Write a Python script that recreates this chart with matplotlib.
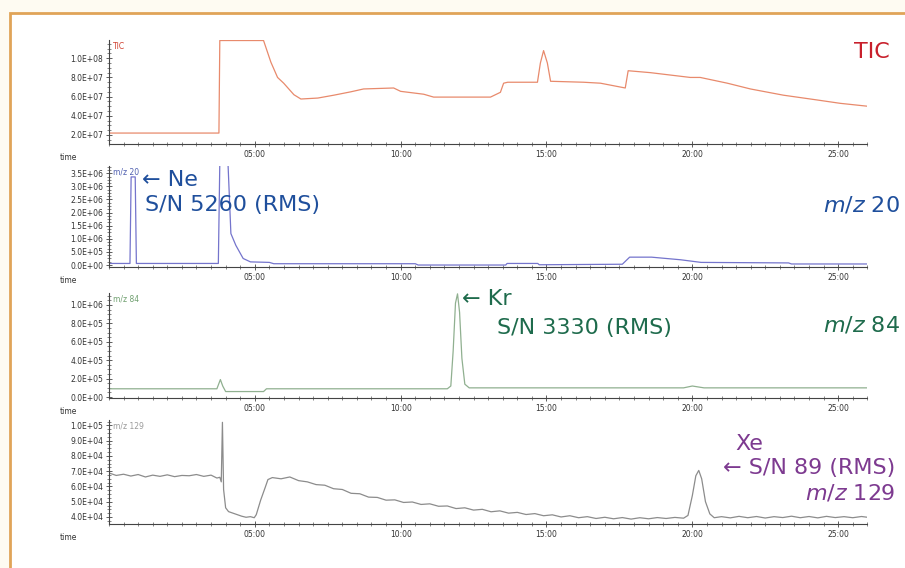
import matplotlib
matplotlib.use("Agg")
import matplotlib.pyplot as plt
import matplotlib.ticker as mticker
from matplotlib.patches import Rectangle

# ---- data (time in minutes) ----
# TIC, values in 1e7 counts
tic_t = [0.05, 3.77, 3.80, 5.30, 5.55, 5.78, 5.99, 6.34, 6.58, 7.16, 7.71, 8.29,
         8.73, 9.76, 10.0, 10.79, 11.13, 13.08, 13.42, 13.53, 13.67, 14.69, 14.79,
         14.90, 15.03, 15.14, 16.27, 16.85, 17.53, 17.70, 17.80, 18.56, 19.93,
         20.27, 21.2, 21.99, 23.12, 24.28, 25.07, 26.0]
tic_v = [2.2, 2.2, 11.85, 11.85, 9.6, 8.0, 7.4, 6.2, 5.75, 5.85, 6.15, 6.5,
         6.8, 6.9, 6.55, 6.25, 5.95, 5.95, 6.45, 7.4, 7.5, 7.5, 9.5,
         10.8, 9.5, 7.6, 7.5, 7.4, 7.0, 6.9, 8.7, 8.5, 8.0,
         8.0, 7.4, 6.8, 6.15, 5.65, 5.3, 5.0]

# m/z 20, values in 1e6 counts
mz20_t = [0.05, 0.72, 0.76, 0.90, 0.94, 3.75, 3.80, 4.08, 4.18, 4.35, 4.6, 4.85,
          5.5, 5.65, 10.5, 10.6, 13.6, 13.65, 14.7, 14.75, 17.6, 17.85, 18.6,
          19.6, 20.3, 23.3, 23.4, 26.0]
mz20_v = [0.06, 0.06, 3.36, 3.36, 0.06, 0.06, 3.9, 3.9, 1.2, 0.75, 0.25, 0.12,
          0.10, 0.05, 0.05, 0.0, 0.0, 0.06, 0.06, 0.01, 0.03, 0.30, 0.30,
          0.20, 0.10, 0.08, 0.04, 0.04]

# m/z 84, values in 1e6 counts
mz84_t = [0.05, 3.70, 3.82, 3.90, 4.0, 5.3, 5.4, 11.6, 11.72, 11.8, 11.88, 11.95,
          12.02, 12.1, 12.2, 12.35, 19.7, 20.0, 20.4, 26.0]
mz84_v = [0.09, 0.09, 0.19, 0.12, 0.06, 0.06, 0.09, 0.09, 0.12, 0.5, 1.02, 1.12,
          0.92, 0.42, 0.14, 0.10, 0.10, 0.12, 0.10, 0.10]

# m/z 129, values in 1e4 counts
mz129_t = [0.05, 0.25, 0.5, 0.75, 1.0, 1.25, 1.5, 1.75, 2.0, 2.25, 2.5, 2.75, 3.0,
           3.25, 3.5, 3.7, 3.80, 3.85, 3.89, 3.93, 4.00, 4.10, 4.25, 4.40, 4.55,
           4.70, 4.85, 4.98, 5.05, 5.20, 5.35, 5.45,
           5.6, 5.9, 6.2, 6.5, 6.8, 7.1, 7.4, 7.7, 8.0, 8.3, 8.6, 8.9, 9.2, 9.5,
           9.8, 10.1, 10.4, 10.7, 11.0, 11.3, 11.6, 11.9, 12.2, 12.5, 12.8, 13.1,
           13.4, 13.7, 14.0, 14.3, 14.6, 14.9, 15.2, 15.5, 15.8, 16.1, 16.4, 16.7,
           17.0, 17.3, 17.6, 17.9, 18.2, 18.5, 18.8, 19.1, 19.4, 19.7,
           19.85, 20.0, 20.12, 20.22, 20.32, 20.45, 20.6, 20.75,
           21.0, 21.3, 21.6, 21.9, 22.2, 22.5, 22.8, 23.1, 23.4, 23.7, 24.0, 24.3,
           24.6, 24.9, 25.2, 25.5, 25.8, 26.0]
mz129_v = [6.85, 6.72, 6.80, 6.68, 6.78, 6.62, 6.74, 6.66, 6.76, 6.64, 6.72, 6.70, 6.78,
           6.66, 6.74, 6.55, 6.60, 6.30, 10.2, 5.8, 4.6, 4.35, 4.25, 4.15, 4.05,
           3.98, 4.02, 3.95, 4.15, 5.1, 5.9, 6.45,
           6.58, 6.50, 6.62, 6.38, 6.30, 6.12, 6.08, 5.85, 5.80, 5.55, 5.52, 5.30, 5.28, 5.10,
           5.12, 4.95, 4.98, 4.82, 4.86, 4.70, 4.72, 4.55, 4.60, 4.45, 4.50, 4.34,
           4.40, 4.25, 4.30, 4.16, 4.22, 4.08, 4.14, 4.00, 4.08, 3.95, 4.02, 3.90,
           3.98, 3.88, 3.96, 3.86, 3.95, 3.88, 3.96, 3.90, 3.97, 3.92,
           4.1, 5.4, 6.7, 7.05, 6.5, 5.0, 4.2, 3.95,
           4.02, 3.94, 4.04, 3.95, 4.03, 3.93, 4.02, 3.96, 4.05, 3.95, 4.03, 3.94,
           4.04, 3.96, 4.02, 3.95, 4.03, 3.98]

W, H = 905, 568
fig = plt.figure(figsize=(W / 100, H / 100), dpi=100)
fig.patch.set_facecolor("#fefbf2")
fig.patches.append(Rectangle((10 / W, -0.05), 1.05, 1 - 13 / H + 0.05,
                             transform=fig.transFigure, facecolor="white",
                             edgecolor="#e0a458", lw=2, zorder=-10))

sci = mticker.FuncFormatter(lambda v, _: f"{v:.1E}")
mmss = mticker.FuncFormatter(lambda v, _: f"{int(v):02d}:00")

panels = [
    # t, v, scale, rect (l, b, w, h), ylim, ymajor, color, small label, label color
    (tic_t, tic_v, 1e7, (0.1204, 0.7465, 0.838, 0.183), (1.06e7, 1.19e8), 2e7,
     "#e88a6c", "TIC", "#d04030"),
    (mz20_t, mz20_v, 1e6, (0.1204, 0.5299, 0.838, 0.178), (-0.076e6, 3.78e6), 0.5e6,
     "#7474cc", "m/z 20", "#5060b0"),
    (mz84_t, mz84_v, 1e6, (0.1204, 0.2993, 0.838, 0.185), (-0.01e6, 1.13e6), 2e5,
     "#90b090", "m/z 84", "#70a070"),
    (mz129_t, mz129_v, 1e4, (0.1204, 0.0775, 0.838, 0.183), (3.54e4, 10.35e4), 1e4,
     "#8c8c8c", "m/z 129", "#9a9a9a"),
]

for t, v, scale, rect, ylim, ymaj, col, lab, labcol in panels:
    ax = fig.add_axes(rect)
    ax.set_facecolor("none")
    ax.plot(t, [x * scale for x in v], color=col, lw=0.9)
    ax.set_xlim(0, 26)
    ax.set_ylim(*ylim)
    for s in ("top", "right"):
        ax.spines[s].set_visible(False)
    for s in ("left", "bottom"):
        ax.spines[s].set_color("#444444")
        ax.spines[s].set_linewidth(0.8)
    ax.xaxis.set_major_locator(mticker.FixedLocator([5, 10, 15, 20, 25]))
    ax.xaxis.set_minor_locator(mticker.MultipleLocator(0.5))
    ax.xaxis.set_major_formatter(mmss)
    ax.yaxis.set_major_locator(mticker.MultipleLocator(ymaj))
    ax.yaxis.set_minor_locator(mticker.MultipleLocator(ymaj / 4))
    ax.yaxis.set_major_formatter(sci)
    ax.tick_params(which="major", direction="inout", length=4, width=0.6,
                   labelsize=5.5, color="#444444", labelcolor="#333333", pad=2)
    ax.tick_params(which="minor", direction="inout", length=2.5, width=0.5,
                   color="#555555")
    ax.annotate("time", xy=(-0.054, 0), xycoords="axes fraction",
                xytext=(0, -10), textcoords="offset points", ha="center",
                va="center", fontsize=5.5, color="#333333")
    ax.text(0.005, 0.985, lab, transform=ax.transAxes, ha="left", va="top",
            fontsize=5.5, color=labcol)


def ftxt(x, y, s, color, ha="left", size=16):
    fig.text(x / W, 1 - y / H, s, color=color, ha=ha, va="center", fontsize=size)


RED, BLUE, GREEN, PURPLE = "#c8202c", "#1f4f9c", "#1e6b4c", "#7d3a90"
ftxt(890, 52, "TIC", RED, ha="right", size=16)

ftxt(142, 180, "\u2190 Ne", BLUE)
ftxt(145, 205, "S/N 5260 (RMS)", BLUE)
ftxt(900, 205, r"$m/z$ 20", BLUE, ha="right")

ftxt(462, 299, "\u2190 Kr", GREEN)
ftxt(497, 328, "S/N 3330 (RMS)", GREEN)
ftxt(900, 325, r"$m/z$ 84", GREEN, ha="right")

ftxt(735, 444, "Xe", PURPLE)
ftxt(895, 468, "\u2190 S/N 89 (RMS)", PURPLE, ha="right")
ftxt(895, 493, r"$m/z$ 129", PURPLE, ha="right")

fig.savefig("out.png", dpi=100, facecolor=fig.get_facecolor())
